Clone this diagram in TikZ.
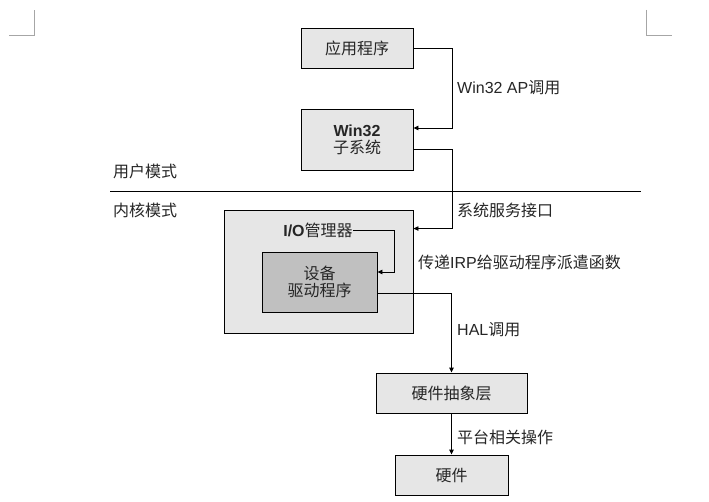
\documentclass[tikz,border=0pt]{standalone}
\usepackage{fontspec}
\setmainfont{Liberation Sans}
\newfontfamily\cjk{Noto Sans CJK SC}
\usetikzlibrary{arrows.meta}
\begin{document}
\begin{tikzpicture}[x=1pt,y=-1pt,font=\fontsize{16}{18}\selectfont]
\definecolor{cbox}{HTML}{E6E6E6}\definecolor{cinner}{HTML}{C0C0C0}
\definecolor{cmark}{HTML}{A6A6A6}\definecolor{ctext}{HTML}{262626}
\tikzset{block/.style={draw=black,line width=0.9pt,fill=cbox,inner sep=0pt,align=center,text=ctext},
 link/.style={draw=black,line width=0.9pt,-{Triangle[length=5pt,width=4.5pt]}},
 tag/.style={anchor=west,inner sep=0pt,text=ctext}}
\useasboundingbox[fill=white] (0,0) rectangle (709,502);
% page corner marks
\draw[cmark,line width=0.9pt] (9,35) -- (34,35) -- (34,10);
\draw[cmark,line width=0.9pt] (646,10) -- (646,35) -- (672,35);
% user / kernel split
\node[tag] (umode) at (113,171) {\cjk 用户模式};
\node[tag] (kmode) at (113,210) {\cjk 内核模式};
\draw[black,line width=0.9pt] (110,191) -- (641,191);
% blocks
\node[block,minimum width=112pt,minimum height=40pt] (app) at (357,48) {\cjk 应用程序};
\node[block,minimum width=112pt,minimum height=61pt] (win) at (357,139.5) {\bfseries Win32\\[-1pt]\cjk 子系统};
\node[block,minimum width=189pt,minimum height=123pt] (io) at (318.5,271.5) {};
\node[inner sep=0pt,text=ctext] (iolabel) at (318,230) {\bfseries I/O\cjk\mdseries 管理器};
\node[block,fill=cinner,minimum width=115pt,minimum height=60pt] (drv) at (319.5,282) {\cjk 设备\\[-1pt]\cjk 驱动程序};
\node[block,minimum width=151pt,minimum height=40pt] (hal) at (451.5,393) {\cjk 硬件抽象层};
\node[block,minimum width=113pt,minimum height=40pt] (hw) at (451.5,475) {\cjk 硬件};
% calls
\coordinate (iobend) at (394,230);
\draw[link] (app.east) -- ++(39,0) |- ([yshift=11.5pt]win.east);
\draw[link] ([yshift=-9.5pt]win.east) -- ++(39,0) |- ([yshift=-19pt]io.north east);
\draw[link] (iolabel.east) -- (iobend) |- ([yshift=10pt]drv.east);
\draw[link] ([yshift=-11pt]drv.east) -| (hal.north);
\draw[link] (hal.south) -- (hw.north);
\node[tag] (lapi) at (457,88) {Win32 AP\cjk 调用};
\node[tag] (lsys) at (457,210) {\cjk 系统服务接口};
\node[tag] (lirp) at (418,262) {\cjk 传递\rmfamily IRP\cjk 给驱动程序派遣函数};
\node[tag] (lhal) at (457,330) {HAL\cjk 调用};
\node[tag] (lplat) at (457,437) {\cjk 平台相关操作};
\end{tikzpicture}
\end{document}
